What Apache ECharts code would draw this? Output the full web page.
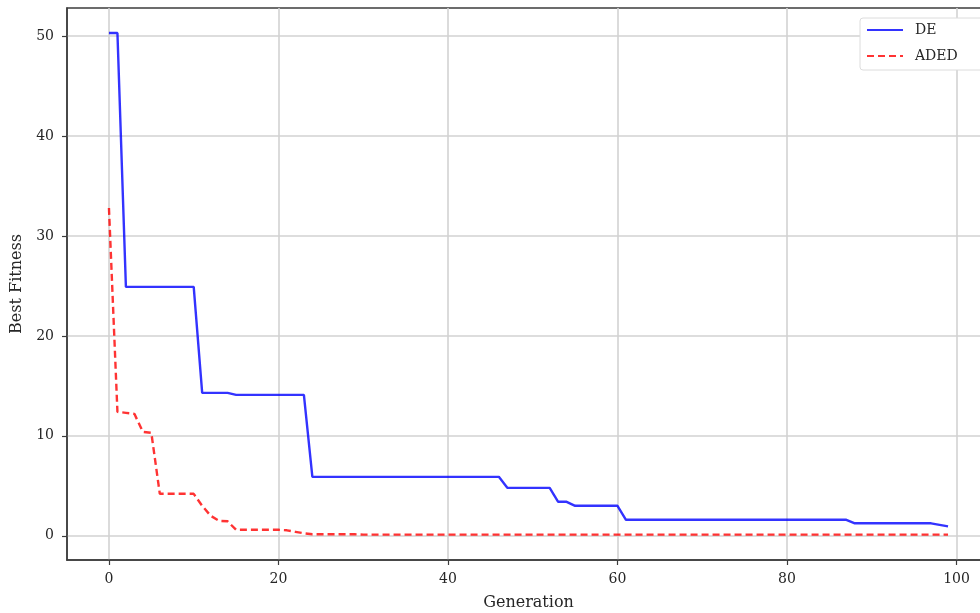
<!DOCTYPE html>
<html>
<head>
<meta charset="utf-8">
<script src="https://cdn.jsdelivr.net/npm/echarts@6/dist/echarts.min.js"></script>
<style>
html,body{margin:0;padding:0;background:#fff;}
#c{width:980px;height:613px;}
</style>
</head>
<body>
<div id="c"></div>
<script>
const seriesNames = ['DE', 'ADED'];
const deValues = [
  50.3, 50.3,
  24.9, 24.9, 24.9, 24.9, 24.9, 24.9, 24.9, 24.9, 24.9,
  14.3, 14.3, 14.3, 14.3,
  14.1, 14.1, 14.1, 14.1, 14.1, 14.1, 14.1, 14.1, 14.1,
  5.9, 5.9, 5.9, 5.9, 5.9, 5.9, 5.9, 5.9, 5.9, 5.9, 5.9, 5.9, 5.9, 5.9, 5.9, 5.9, 5.9, 5.9, 5.9, 5.9, 5.9, 5.9, 5.9,
  4.8, 4.8, 4.8, 4.8, 4.8, 4.8,
  3.4, 3.4,
  3.0, 3.0, 3.0, 3.0, 3.0, 3.0,
  1.6, 1.6, 1.6, 1.6, 1.6, 1.6, 1.6, 1.6, 1.6, 1.6, 1.6, 1.6, 1.6, 1.6, 1.6, 1.6, 1.6, 1.6, 1.6, 1.6, 1.6, 1.6, 1.6, 1.6, 1.6, 1.6, 1.6,
  1.25, 1.25, 1.25, 1.25, 1.25, 1.25, 1.25, 1.25, 1.25, 1.25,
  1.1, 0.95
];
const adedValues = [
  32.8, 12.4, 12.3, 12.2, 10.4, 10.3,
  4.2, 4.2, 4.2, 4.2, 4.2,
  3.0, 2.0, 1.5, 1.45,
  0.6, 0.6, 0.6, 0.6, 0.6, 0.6,
  0.55, 0.4, 0.25,
  0.15, 0.15, 0.15, 0.15, 0.15, 0.15,
  0.12, 0.12, 0.12, 0.12, 0.12, 0.12, 0.12, 0.12, 0.12, 0.12,
  0.12, 0.12, 0.12, 0.12, 0.12, 0.12, 0.12, 0.12, 0.12, 0.12,
  0.12, 0.12, 0.12, 0.12, 0.12, 0.12, 0.12, 0.12, 0.12, 0.12,
  0.12, 0.12, 0.12, 0.12, 0.12, 0.12, 0.12, 0.12, 0.12, 0.12,
  0.12, 0.12, 0.12, 0.12, 0.12, 0.12, 0.12, 0.12, 0.12, 0.12,
  0.12, 0.12, 0.12, 0.12, 0.12, 0.12, 0.12, 0.12, 0.12, 0.12,
  0.12, 0.12, 0.12, 0.12, 0.12, 0.12, 0.12, 0.12, 0.12, 0.12
];
const xTicks = [0, 20, 40, 60, 80, 100];
const yTicks = [0, 10, 20, 30, 40, 50];
const xAxisTitle = 'Generation';
const yAxisTitle = 'Best Fitness';

const FONT = 'DejaVu Serif';
const TXT = '#262626';
const SPINE = '#3c3c3c';
const chart = echarts.init(document.getElementById('c'), null, {renderer: 'canvas'});
const toPairs = arr => arr.map((v, i) => [i, v]);

chart.setOption({
  animation: false,
  backgroundColor: '#fff',
  textStyle: {fontFamily: FONT},
  grid: {
    left: 67, right: -10, top: 8, bottom: 53,
    containLabel: false, outerBoundsMode: 'none',
    show: true, borderColor: SPINE, borderWidth: 1.5, backgroundColor: 'transparent'
  },
  legend: {
    orient: 'vertical',
    left: 860, top: 18,
    padding: [5, 40, 7, 6],
    itemWidth: 36, itemHeight: 12, itemGap: 12,
    backgroundColor: '#fff',
    borderColor: '#dcdcdc', borderWidth: 1, borderRadius: 3,
    itemStyle: {opacity: 0, borderWidth: 0},
    textStyle: {fontFamily: FONT, fontSize: 14, color: TXT, padding: [0, 0, 0, 7]},
    data: seriesNames
  },
  xAxis: {
    type: 'value',
    min: -4.95, max: 103.95,
    name: xAxisTitle, nameLocation: 'middle', nameGap: 35,
    nameTextStyle: {fontFamily: FONT, fontSize: 16, color: TXT},
    axisLine: {show: true, onZero: false, lineStyle: {color: SPINE, width: 1.5}},
    axisTick: {show: true, length: 5, customValues: xTicks, lineStyle: {color: SPINE, width: 1.2}},
    axisLabel: {fontFamily: FONT, fontSize: 14, color: TXT, margin: 12, customValues: xTicks},
    splitLine: {show: true, lineStyle: {color: '#d2d2d2', width: 1.6}}
  },
  yAxis: {
    type: 'value',
    min: -2.42, max: 52.8,
    name: yAxisTitle, nameLocation: 'middle', nameGap: 42,
    nameTextStyle: {fontFamily: FONT, fontSize: 16, color: TXT},
    axisLine: {show: true, onZero: false, lineStyle: {color: SPINE, width: 1.5}},
    axisTick: {show: true, length: 5, customValues: yTicks, lineStyle: {color: SPINE, width: 1.2}},
    axisLabel: {fontFamily: FONT, fontSize: 14, color: TXT, margin: 13, customValues: yTicks},
    splitLine: {show: true, lineStyle: {color: '#d2d2d2', width: 1.6}}
  },
  series: [
    {
      name: seriesNames[0], type: 'line', symbol: 'none',
      data: toPairs(deValues),
      lineStyle: {color: 'rgba(0,0,255,0.8)', width: 2.4},
      itemStyle: {color: 'rgba(0,0,255,0.8)'}
    },
    {
      name: seriesNames[1], type: 'line', symbol: 'none',
      data: toPairs(adedValues),
      lineStyle: {color: 'rgba(255,0,0,0.8)', width: 2.4, type: [7, 4]},
      itemStyle: {color: 'rgba(255,0,0,0.8)'}
    }
  ]
});
</script>
</body>
</html>
